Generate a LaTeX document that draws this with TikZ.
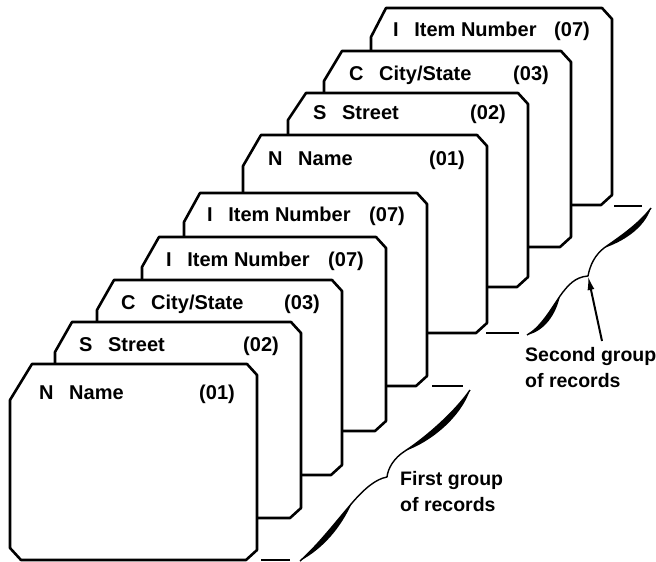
\documentclass[tikz,border=0pt]{standalone}
\usepackage{fontspec}
\setmainfont{Liberation Sans}
\usetikzlibrary{arrows.meta}

\tikzset{
  cardline/.style={line width=2.6pt, line join=round, fill=white},
  cardtext/.style={font=\fontsize{20}{24}\selectfont\bfseries, inner sep=0pt},
  notetext/.style={font=\fontsize{19.5}{26}\selectfont\bfseries, inner sep=0pt, align=left, anchor=north west},
  stackedge/.style={line width=2.2pt},
  tearline/.style={line width=1.4pt, line join=round},
  tearfill/.style={fill=black},
  pointer/.style={line width=2pt, -{Latex[length=14pt,width=7pt]}}
}

% \pcard{name}{left}{top}{right}{bottom}{field}{code}{clip width}{clip height}
\newcommand{\pcard}[9]{%
  \draw[cardline] (#2,{#3+#9}) -- ({#2+#8},#3) -- ({#4-10},#3) -- (#4,{#3+11})
    -- (#4,{#5-10}) -- ({#4-11},#5) -- ({#2+11},#5) -- (#2,{#5-12}) -- cycle;
  \node[cardtext, anchor=base west] (#1-lbl) at ({#2+#8+7},{#3+#9-1}) {#6};
  \node[cardtext, anchor=base east] (#1-num) at ({#4-22},{#3+#9-1}) {#7};
}

\newcommand{\gap}{\hspace{0.78em}}

\begin{document}
\begin{tikzpicture}[x=1pt,y=-1pt]
\useasboundingbox (0,0) rectangle (656,562);

% second group of records (drawn first, it lies behind)
\pcard{c9}{371}{8}{612}{205}{I\gap Item Number}{(07)}{15}{29}
\pcard{c8}{324}{51}{571}{247}{C\gap City/State}{(03)}{18}{30}
\pcard{c7}{288}{93}{528}{287}{S\gap Street}{(02)}{18}{27}
\pcard{c6}{243}{135}{487}{333}{N\gap Name}{(01)}{18}{31}

% first group of records
\pcard{c5}{184}{193}{427}{386}{I\gap Item Number}{(07)}{16}{29}
\pcard{c4}{142}{237}{386}{431}{I\gap Item Number}{(07)}{17}{30}
\pcard{c3}{97}{280}{342}{475}{C\gap City/State}{(03)}{17}{30}
\pcard{c2}{55}{322}{301}{518}{S\gap Street}{(02)}{17}{30}
\pcard{c1}{10}{364}{257}{560}{N\gap Name}{(01)}{22}{36}

% depth of the second stack
\coordinate (s2a) at (614,206);
\coordinate (s2b) at (642,206);
\coordinate (s2c) at (486,333);
\coordinate (s2d) at (519,333);
\draw[stackedge] (s2a) -- (s2b);
\draw[stackedge] (s2c) -- (s2d);
\coordinate (cusp2) at (588,276);
\draw[tearline] (651,208) .. controls (638,225) and (618,238) .. (604,248)
  .. controls (595,255) and (590,265) .. (cusp2)
  .. controls (575,277) and (568,285) .. (560,296)
  .. controls (550,311) and (540,328) .. (527,335);
\fill[tearfill] (651,208) .. controls (638,225) and (618,238) .. (604,248)
  .. controls (622,242) and (644,229) .. cycle;
\fill[tearfill] (560,296) .. controls (550,311) and (540,328) .. (527,335)
  .. controls (545,331) and (556,314) .. cycle;

% depth of the first stack
\coordinate (s1a) at (432,386);
\coordinate (s1b) at (463,386);
\coordinate (s1c) at (261,560);
\coordinate (s1d) at (290,560);
\draw[stackedge] (s1a) -- (s1b);
\draw[stackedge] (s1c) -- (s1d);
\coordinate (cusp1) at (387,477);
\draw[tearline] (470,390) .. controls (455,412) and (425,438) .. (405,451)
  .. controls (394,458) and (388,468) .. (cusp1)
  .. controls (376,479) and (365,488) .. (352,503)
  .. controls (335,523) and (318,545) .. (300,561);
\fill[tearfill] (470,390) .. controls (455,412) and (425,438) .. (405,451)
  .. controls (431,442) and (461,417) .. cycle;
\fill[tearfill] (352,503) .. controls (335,523) and (318,545) .. (300,561)
  .. controls (324,548) and (341,527) .. cycle;

% captions
\node[notetext] (first) at (400,471) {First group\\of records};
\node[notetext] (second) at (525,347) {Second group\\of records};
\coordinate (tail2) at (602,341);
\draw[pointer] (tail2) -- (cusp2);
\end{tikzpicture}
\end{document}
